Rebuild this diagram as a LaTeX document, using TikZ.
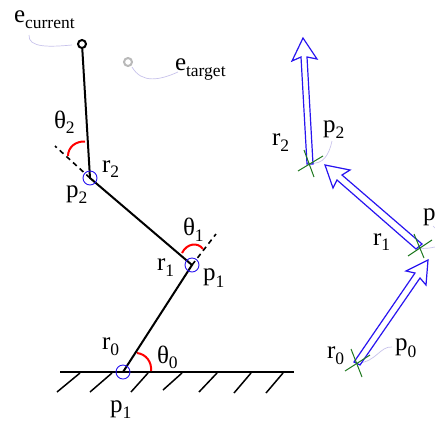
\documentclass[tikz,border=0pt]{standalone}
\usepackage{fontspec}
\setmainfont{Liberation Serif}
\newcommand{\lbl}[3]{{\fontsize{25}{25}\selectfont #1}\raisebox{-#3pt}{\fontsize{17.5}{17.5}\selectfont #2}}
\definecolor{armblue}{RGB}{40,20,240}
\definecolor{crossgreen}{RGB}{30,120,30}
\definecolor{leader}{RGB}{200,195,235}
\definecolor{targetgrey}{RGB}{185,185,185}
\tikzset{
  txt/.style={anchor=base west,inner sep=0pt,outer sep=0pt,text=black},
  link/.style={draw=black,line width=2pt},
  ground/.style={draw=black,line width=2.8pt},
  hatch/.style={draw=black,line width=1.5pt},
  jointc/.style={draw=armblue,line width=0.9pt,circle,minimum size=14pt,inner sep=0pt},
  endc/.style={draw=black,line width=2pt,circle,minimum size=8pt,inner sep=0pt,fill=white},
  targetc/.style={draw=targetgrey,line width=2pt,circle,minimum size=8pt,inner sep=0pt,fill=white},
  anglearc/.style={draw=red,line width=2pt},
  dashext/.style={draw=black,line width=1.6pt,dash pattern=on 5pt off 4pt},
  vecarrow/.style={draw=armblue,line width=1.2pt,line join=miter,fill=white},
  crossl/.style={draw=crossgreen,line width=1pt},
  leaderl/.style={draw=leader,line width=0.7pt}
}
\begin{document}
\begin{tikzpicture}[x=1pt,y=-1pt]
\useasboundingbox (0,0) rectangle (435,421);
\clip (0,0) rectangle (435,421);
% left arm
\coordinate (J0) at (123,372);
\coordinate (J1) at (192,265);
\coordinate (J2) at (90,178);
\coordinate (GL) at (60,372);
\coordinate (GR) at (294,372);
\coordinate (D1) at (216,234);
\coordinate (D2) at (55,146);
\draw[dashext] (J2) -- (D2);
\draw[dashext] (J1) -- (D1);
\draw[ground] (GL) -- (GR);
\foreach \i/\a/\b/\c/\d in {1/80/373/57/392,2/112/373/90/392,3/148/373/131/392,4/182/373/163/390,5/217/373/199/392,6/251/373/234/393,7/283/373/266/393}{
  \coordinate (Ha\i) at (\a,\b);
  \coordinate (Hb\i) at (\c,\d);
  \draw[hatch] (Ha\i) -- (Hb\i);
}
\node[endc] (Ecur) at (82,44) {};
\node[targetc] (Etar) at (128,62) {};
\draw[link] (Ecur) -- (J2) -- (J1) -- (J0);
\node[jointc] (C2) at (J2) {};
\node[jointc] (C1) at (J1) {};
\node[jointc] (C0) at (J0) {};
\draw[anglearc] (85,141.5) .. controls (76,141) and (68,147) .. (68,156);
\draw[anglearc] (182,253) .. controls (187,243) and (198,242) .. (203,249);
\draw[anglearc] (137,353) .. controls (146,354) and (152,362) .. (151,371);
% leaders
\coordinate (LcA) at (29,35); \coordinate (LcB) at (72,45);
\draw[leaderl] (LcA) .. controls (28,48) and (50,47) .. (LcB);
\coordinate (LtA) at (132,67); \coordinate (LtB) at (178,72);
\draw[leaderl] (LtA) .. controls (142,84) and (160,80) .. (LtB);
% right: vectors
\coordinate (B2) at (310,163);
\coordinate (B1) at (419,248);
\coordinate (B0) at (358,363);
\coordinate (P2A) at (332,141);
\coordinate (P0A) at (392,347);
\coordinate (P1A) at (435,228);
\coordinate (P1B) at (435,247);
\draw[leaderl] (P2A) .. controls (329,155) and (323,165) .. (B2);
\draw[leaderl] (P0A) .. controls (380,346) and (376,362) .. (B0);
\draw[leaderl] (P1B) .. controls (430,248) and (425,249) .. (B1);
\draw[leaderl] (P1A) -- (433,226);
\draw[vecarrow] (307,164) -- (301,57) -- (292,61) -- (303,38) -- (317,59) -- (307,57) -- (313,164) -- cycle;
\draw[vecarrow] (416,249) -- (337,180) -- (333,188) -- (325,165) -- (350,170) -- (342,175) -- (422,244) -- cycle;
\draw[vecarrow] (354,362) -- (415,273) -- (406,271) -- (428,260) -- (426,285) -- (420,278) -- (360,365) -- cycle;
\draw[crossl] (304,150) -- (314,177);
\draw[crossl] (298,171) -- (323,156);
\draw[crossl] (414,234) -- (424,258);
\draw[crossl] (408,256) -- (432,240);
\draw[crossl] (351,349) -- (362,377);
\draw[crossl] (345,371) -- (370,355);
% labels
\node[txt] (Lecur) at (14,22) {\lbl{e}{current}{6}};
\node[txt] (Letar) at (175,70) {\lbl{e}{target}{6}};
\node[txt] (Lth2) at (54,128) {\lbl{θ}{2}{5}};
\node[txt] (Lth1) at (183,235) {\lbl{θ}{1}{6}};
\node[txt] (Lth0) at (157,363) {\lbl{θ}{0}{5}};
\node[txt] (Lr2) at (102,172) {\lbl{r}{2}{5}};
\node[txt] (Lr1) at (157,270) {\lbl{r}{1}{6}};
\node[txt] (Lr0) at (102,349) {\lbl{r}{0}{6}};
\node[txt] (Lp2) at (66,197) {\lbl{p}{2}{6}};
\node[txt] (Lp1) at (203,280) {\lbl{p}{1}{7}};
\node[txt] (Lp1b) at (110,412) {\lbl{p}{1}{6}};
\node[txt] (Rr2) at (272,145) {\lbl{r}{2}{6}};
\node[txt] (Rp2) at (323,132) {\lbl{p}{2}{6}};
\node[txt] (Rr1) at (373,245) {\lbl{r}{1}{5}};
\node[txt] (Rp1) at (423,220) {\lbl{p}{1}{6}};
\node[txt] (Rr0) at (327,358) {\lbl{r}{0}{6}};
\node[txt] (Rp0) at (395,350) {\lbl{p}{0}{7}};
\end{tikzpicture}
\end{document}
